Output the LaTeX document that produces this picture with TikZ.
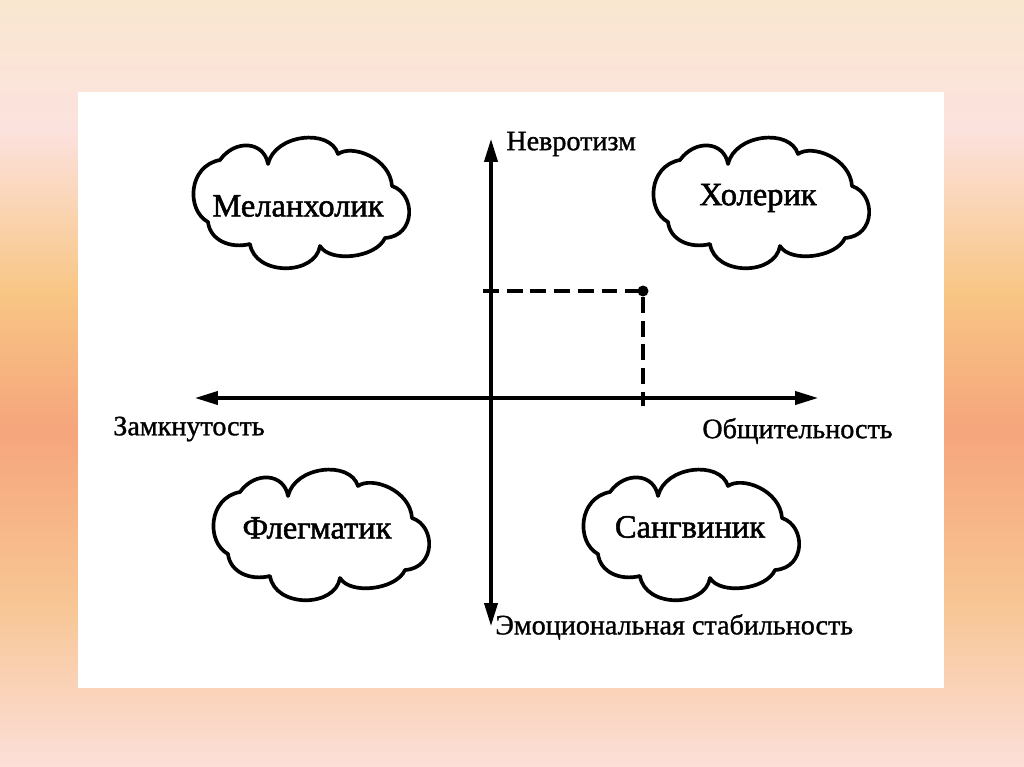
\documentclass[tikz,border=0pt]{standalone}
\usepackage{fontspec}
\setmainfont{Liberation Serif}
\newfontfamily\heavyserif[FakeBold=1.6]{Liberation Serif}
\newfontfamily\midserif[FakeBold=1.1]{Liberation Serif}
\usetikzlibrary{arrows.meta}
\definecolor{bgA}{HTML}{F9E7D0}
\definecolor{bgB}{HTML}{FCE2DE}
\definecolor{bgC}{HTML}{F8C685}
\definecolor{bgD}{HTML}{F6A57C}
\definecolor{bgE}{HTML}{F7C593}
\definecolor{bgF}{HTML}{FCDFD9}
\tikzset{
  cloudline/.style={line width=2.1pt, line join=round, fill=white},
  axis/.style={line width=1.8pt, -{Triangle[length=13pt,width=7.5pt]}},
  guide/.style={line width=2pt, dash pattern=on 9pt off 4.5pt},
  cloudtext/.style={font=\heavyserif\fontsize{18.5}{20}\selectfont},
  axislabel/.style={font=\midserif\fontsize{16}{18}\selectfont, inner sep=0pt},
  cloud/.pic={
    \draw[cloudline] (88,34)
      .. controls (95,4) and (150,-2) .. (158,24)
      .. controls (172,14) and (210,28) .. (212,56)
      .. controls (236,64) and (236,106) .. (205,108)
      .. controls (196,128) and (150,133) .. (140,116)
      .. controls (135,146) and (75,146) .. (70,114)
      .. controls (50,119) and (30,110) .. (28,92)
      .. controls (6,80) and (8,36) .. (40,30)
      .. controls (55,9) and (84,11) .. (88,34) -- cycle;
  }
}
\begin{document}
\begin{tikzpicture}[x=0.02cm, y=-0.02cm]
\useasboundingbox (0,0) rectangle (1024,767);
% background gradient
\shade[top color=bgA, bottom color=bgB] (0,0) rectangle (1024,131);
\shade[top color=bgB, bottom color=bgC] (0,130) rectangle (1024,291);
\shade[top color=bgC, bottom color=bgD] (0,290) rectangle (1024,431);
\shade[top color=bgD, bottom color=bgE] (0,430) rectangle (1024,601);
\shade[top color=bgE, bottom color=bgF] (0,600) rectangle (1024,767);
% white panel
\fill[white] (78,92) rectangle (944,688);

% clouds
\pic at (180,130) {cloud};
\pic at (640,130) {cloud};
\pic at (200,462) {cloud};
\pic at (570,462) {cloud};
\node[cloudtext] (mel) at (298,206) {Меланхолик};
\node[cloudtext] (hol) at (758,198) {Холерик};
\node[cloudtext] (fleg) at (317,528) {Флегматик};
\node[cloudtext] (sang) at (690,527) {Сангвиник};

% axes
\coordinate (top) at (491,139);
\coordinate (bottom) at (491,626);
\coordinate (left) at (195,398);
\coordinate (right) at (818,398);
\coordinate (origin) at (491,398);
\draw[axis] (origin) -- (top);
\draw[axis] (origin) -- (bottom);
\draw[axis] (origin) -- (left);
\draw[axis] (origin) -- (right);

% point and guides
\coordinate (pt) at (643,291);
\coordinate (gl) at (483,291);
\coordinate (gb) at (643,406);
\draw[guide] (gl) -- (pt) -- (gb);
\fill (pt) circle (5.5);

% axis labels
\node[axislabel, anchor=west] (nev) at (506,144) {Невротизм};
\node[axislabel, anchor=west] (zam) at (113,429) {Замкнутость};
\node[axislabel, anchor=east] (obs) at (893,431) {Общительность};
\node[axislabel, anchor=west] (emo) at (495,627) {Эмоциональная стабильность};
\end{tikzpicture}
\end{document}
